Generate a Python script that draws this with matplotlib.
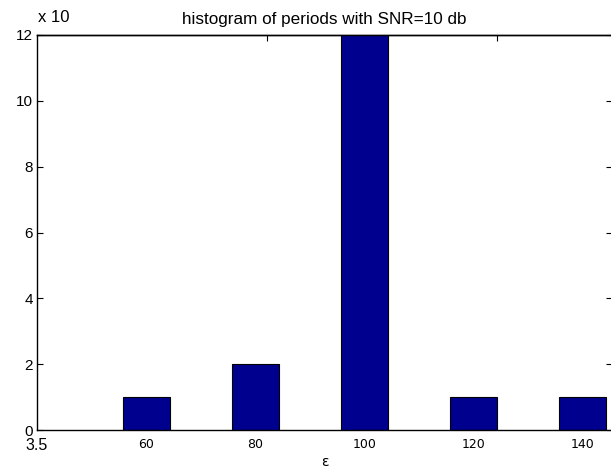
import matplotlib
matplotlib.use("Agg")
import matplotlib.pyplot as plt

# histogram counts per period bin
periods = [60, 80, 100, 120, 140]
counts = [1, 2, 12, 1, 1]
xtick_pos = [40, 60, 80, 100, 120, 140]
xtick_lbl = ["3.5", "60", "80", "100", "120", "140"]
ytick_pos = [0, 2, 4, 6, 8, 10, 12]
top_ticks = [82.2, 124.3]

W, H = 611, 468
fig = plt.figure(figsize=(W / 100, H / 100), dpi=100)
ax = fig.add_axes([37 / W, 38 / H, (612 - 37) / W, (430 - 35) / H])

ax.bar(periods, counts, width=8.6, color="#00008f", edgecolor="black", linewidth=0.8)

ax.set_xlim(40.2, 145.4)
ax.set_ylim(0, 12)

ax.set_yticks(ytick_pos)
ax.set_yticklabels([str(v) for v in ytick_pos], family="Liberation Sans", fontsize=11)
ax.tick_params(axis="y", direction="in", length=4, width=0.8, right=True, pad=3)

ax.set_xticks(xtick_pos)
ax.set_xticklabels(xtick_lbl, fontsize=9)
ax.get_xticklabels()[0].set_family("Liberation Sans")
ax.get_xticklabels()[0].set_fontsize(11.5)
ax.tick_params(axis="x", length=0, pad=6)

top = ax.secondary_xaxis("top")
top.set_xticks(top_ticks)
top.set_xticklabels([])
top.tick_params(direction="in", length=4, width=0.8)
top.spines["top"].set_linewidth(1.0)

for s in ax.spines.values():
    s.set_linewidth(1.0)

ax.set_title("histogram of periods with SNR=10 db", family="Liberation Sans",
             fontsize=12.3, pad=8)
fig.text(38 / W, 1 - 17 / H, "x 10", family="Liberation Sans", fontsize=12,
         va="center", ha="left")
fig.text(325 / W, 1 - 462 / H, "ε", fontsize=10, ha="center", va="center")

fig.savefig("out.png", dpi=100)
